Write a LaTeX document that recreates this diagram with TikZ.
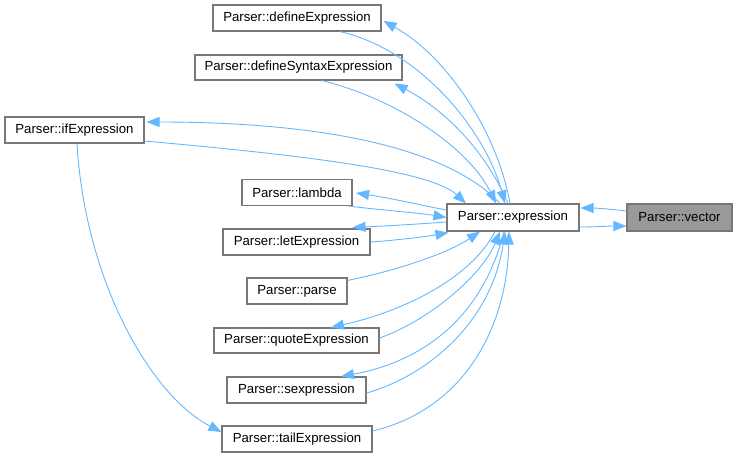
\documentclass[tikz,border=0pt]{standalone}
\usepackage{fontspec}
\setmainfont{Liberation Sans}
\usetikzlibrary{arrows.meta,calc}
\definecolor{edgeblue}{HTML}{63B8FF}
\definecolor{boxgray}{HTML}{777777}
\definecolor{fillgray}{HTML}{999999}
\tikzset{
  fn/.style={draw=boxgray, line width=1.1pt, fill=white, minimum height=26pt, inner sep=0pt, font=\fontsize{13.2}{15}\selectfont},
  focus/.style={fn, fill=fillgray},
  call/.style={draw=edgeblue, line width=0.9pt, -{Triangle[length=13pt,width=10pt]}}
}
\begin{document}
\begin{tikzpicture}[x=1pt,y=-1pt]
\useasboundingbox (0,0) rectangle (736,458);
\node[fn, minimum width=168pt] (dE) at (297,18) {Parser::defineExpression};
\node[fn, minimum width=207pt, minimum height=25pt] (dSE) at (298.5,67.5) {Parser::defineSyntaxExpression};
\node[fn, minimum width=139pt] (ifE) at (74.5,130) {Parser::ifExpression};
\node[fn, minimum width=110pt] (lam) at (297,192.5) {Parser::lambda};
\node[fn, minimum width=147pt] (let) at (296.5,242) {Parser::letExpression};
\node[fn, minimum width=100pt] (parse) at (297,291) {Parser::parse};
\node[fn, minimum width=165pt, minimum height=25pt] (quote) at (296.5,340.5) {Parser::quoteExpression};
\node[fn, minimum width=139pt] (sexp) at (296.5,390) {Parser::sexpression};
\node[fn, minimum width=150pt] (tail) at (297,439) {Parser::tailExpression};
\node[fn, minimum width=132pt, minimum height=27pt] (expr) at (513,217.5) {Parser::expression};
\node[focus, minimum width=105pt, minimum height=27pt] (vec) at (679.5,217.5) {Parser::vector};

% top
\draw[call] ($(expr.north)+(-3,0)$) .. controls (497,130) and (445,55) .. ($(dE.east)+(2,3)$);
\draw[call] ($(dE.south)+(43,0)$) .. controls (420,50) and (485,130) .. ($(expr.north)+(-8,0)$);
\draw[call] ($(expr.north)+(-5,0)$) .. controls (485,150) and (445,110) .. ($(dSE.south east)+(-8,3)$);
\draw[call] ($(dSE.south)+(23.5,0)$) .. controls (400,100) and (470,150) .. ($(expr.north)+(-17,0)$);
\draw[call] ($(expr.north)+(-13,0)$) .. controls (450,150) and (330,122) .. ($(ifE.east)+(2,-8)$);
\draw[call] ($(ifE.east)+(0,11)$) .. controls (300,155) and (430,170) .. ($(expr.north)+(-47,0)$);
% left
\draw[call] ($(expr.west)+(0,-7.5)$) .. controls (420,205) and (390,198) .. ($(lam.east)+(3.5,0.5)$);
\draw[call] ($(lam.south east)+(-4,0)$) .. controls (380,210) and (420,213) .. (expr.west);
\draw[call] ($(expr.west)+(0,4.5)$) .. controls (420,224) and (385,226) .. ($(let.north east)+(-18,-1)$);
\draw[call] (let.east) .. controls (400,240) and (430,236) .. ($(expr.south west)+(2,1)$);
% bottom
\draw[call] ($(parse.north east)+(0,3)$) .. controls (390,272) and (445,255) .. ($(expr.south)+(-33,0)$);
\draw[call] ($(expr.south)+(-18,0)$) .. controls (470,280) and (400,312) .. ($(quote.north)+(34.5,0)$);
\draw[call] ($(quote.east)+(0,-2.5)$) .. controls (430,320) and (482,275) .. ($(expr.south)+(-13,0)$);
\draw[call] ($(expr.south)+(-9,0)$) .. controls (482,320) and (420,362) .. ($(sexp.north)+(44.5,0)$);
\draw[call] ($(sexp.east)+(0,3)$) .. controls (430,375) and (492,320) .. ($(expr.south)+(-8,0)$);
\draw[call] ($(tail.east)+(0,-8)$) .. controls (462,410) and (507,330) .. ($(expr.south)+(-4,0)$);
% if -> tail
\draw[call] ($(ifE.south)+(2.5,0)$) .. controls (85,280) and (150,395) .. ($(tail.west)+(0,-7)$);
% vector
\draw[call] ($(vec.west)+(0,-6.5)$) .. controls (610,209) and (595,208) .. ($(expr.east)+(1,-9.5)$);
\draw[call] ($(expr.east)+(0,9.5)$) .. controls (595,227) and (610,226) .. ($(vec.west)+(0,8.5)$);
\end{tikzpicture}
\end{document}
